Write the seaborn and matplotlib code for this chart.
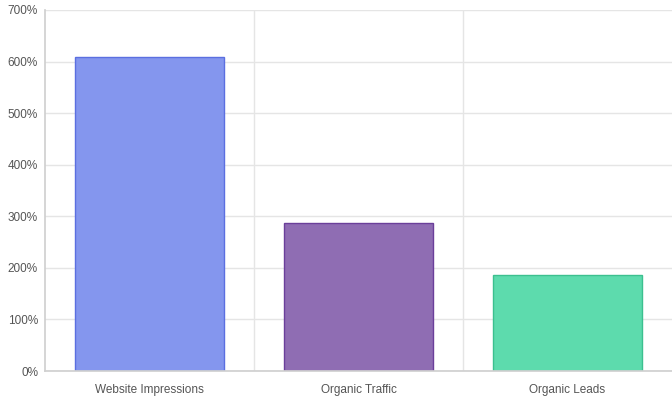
import matplotlib
matplotlib.use("Agg")
import matplotlib.pyplot as plt
import seaborn as sns
import pandas as pd
from matplotlib.ticker import FuncFormatter, MultipleLocator

categories = ["Website Impressions", "Organic Traffic", "Organic Leads"]
values = [608, 287, 186]
fills = ["#8496ee", "#8f6db3", "#5ddbad"]
edges = ["#5b6fe0", "#6b3f9a", "#3cc08f"]

sns.set_theme(style="white")
plt.rcParams['font.family'] = ['Liberation Sans', 'DejaVu Sans']

fig = plt.figure(figsize=(6.72, 4.0), dpi=100)
ax = fig.add_axes([45/672, 1-371/400, (672-45)/672, 361/400])
df = pd.DataFrame({"cat": categories, "val": values})
sns.barplot(data=df, x="cat", y="val", hue="cat", palette=fills, width=0.71,
            legend=False, ax=ax, saturation=1)
for p, e in zip(ax.patches, edges):
    p.set_edgecolor(e); p.set_linewidth(1)
ax.set_ylim(0, 700)
ax.set_xlim(-0.5, 2.5)
ax.yaxis.set_major_locator(MultipleLocator(100))
ax.yaxis.set_major_formatter(FuncFormatter(lambda v, _: f"{int(v)}%"))
ax.set_xlabel(""); ax.set_ylabel("")
ax.grid(axis="y", color="#e5e5e5", linewidth=1)
for xb in [0.5, 1.5]:
    ax.axvline(xb, color="#e5e5e5", linewidth=1, zorder=0)
ax.set_axisbelow(True)
for s in ["top", "right"]:
    ax.spines[s].set_visible(False)
for s in ["left", "bottom"]:
    ax.spines[s].set_color("#d0d0d0")
ax.tick_params(axis="both", labelsize=8.5, colors="#666666", length=0)
ax.tick_params(axis="y", pad=5)
ax.tick_params(axis="x", pad=9)
for lab in ax.get_xticklabels() + ax.get_yticklabels():
    lab.set_color("#555555")
fig.savefig("out.png", dpi=100)
